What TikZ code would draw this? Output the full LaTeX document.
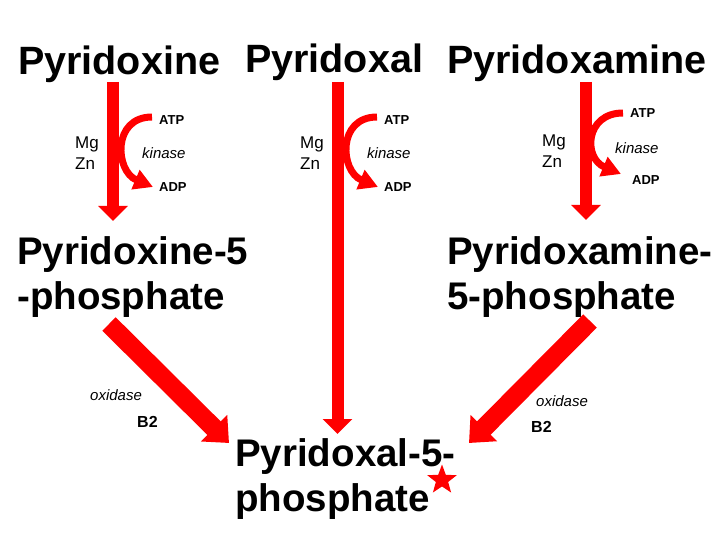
\documentclass[tikz,border=0pt]{standalone}
\usepackage{fontspec}
\setmainfont{Liberation Sans}
\usetikzlibrary{arrows.meta,shapes.geometric}

\begin{document}
\begin{tikzpicture}[x=1pt,y=-1pt,
		compound/.style={anchor=base west, inner sep=0pt, font=\fontsize{39.5}{45}\selectfont\bfseries},
		product/.style={anchor=north west, inner sep=0pt, align=left, font=\fontsize{38.5}{45}\selectfont\bfseries},
		vstep/.style={red, line width=12pt, -{Triangle[length=15pt,width=29pt]}},
		dstep/.style={red, line width=19pt, -{Triangle[length=21pt,width=36pt]}},
		cofactor/.style={red, line width=7pt, -{Triangle[length=19pt,width=20pt]}},
		small/.style={anchor=west, inner sep=0pt, font=\fontsize{13}{15}\selectfont\bfseries},
		enzyme/.style={anchor=west, inner sep=0pt, font=\fontsize{15}{17}\selectfont\itshape},
		metal/.style={anchor=north west, inner sep=0pt, align=left, font=\fontsize{17}{21}\selectfont}]
	\useasboundingbox (0,0) rectangle (720,540);

	% vitamers
	\node[compound] (pn) at (18,75) {Pyridoxine};
	\node[compound] (pl) at (245,73) {Pyridoxal};
	\node[compound] (pm) at (447,74) {Pyridoxamine};

	% phosphates
	\node[product] (pnp) at (17,236) {Pyridoxine-5\\-phosphate};
	\node[product] (pmp) at (447,236) {Pyridoxamine-\\5-phosphate};
	\node[product] (plp) at (235,438) {Pyridoxal-5-\\phosphate};
	\node[star, star points=5, star point ratio=2.4, fill=red, inner sep=0pt, minimum size=31pt] (mark) at (442,480) {};

	% kinase steps
	\coordinate (pn-top) at (113,82);   \coordinate (pn-end) at (113,221);
	\coordinate (pl-top) at (337.5,82); \coordinate (pl-end) at (337.5,434);
	\coordinate (pm-top) at (586,82);   \coordinate (pm-end) at (586,220);
	\draw[vstep] (pn-top) -- (pn-end);
	\draw[vstep] (pl-top) -- (pl-end);
	\draw[vstep] (pm-top) -- (pm-end);

	\node[small] (atp1) at (159,120) {ATP};
	\node[enzyme] (kin1) at (142,153) {kinase};
	\node[small] (adp1) at (159,187) {ADP};
	\node[metal] (mz1) at (75,137) {Mg\\Zn};
	\draw[cofactor] ([xshift=-7pt,yshift=3pt]atp1.west) .. controls +(-40,0) and +(-38,-16) .. ([xshift=-6pt]adp1.west);

	\node[small] (atp2) at (384,120) {ATP};
	\node[enzyme] (kin2) at (367,153) {kinase};
	\node[small] (adp2) at (384,187) {ADP};
	\node[metal] (mz2) at (300,137) {Mg\\Zn};
	\draw[cofactor] ([xshift=-7pt,yshift=3pt]atp2.west) .. controls +(-40,0) and +(-38,-16) .. ([xshift=-6pt]adp2.west);

	\node[small] (atp3) at (630,113) {ATP};
	\node[enzyme] (kin3) at (615,148) {kinase};
	\node[small] (adp3) at (632,180) {ADP};
	\node[metal] (mz3) at (542,135) {Mg\\Zn};
	\draw[cofactor] ([xshift=-7pt]atp3.west) .. controls +(-38,0) and +(-38,-16) .. ([xshift=-11pt,yshift=6pt]adp3.west);

	% oxidase steps
	\coordinate (pnp-out) at (109,324); \coordinate (plp-in1) at (229,443);
	\coordinate (pmp-out) at (590,321); \coordinate (plp-in2) at (469,443);
	\draw[dstep] (pnp-out) -- (plp-in1);
	\draw[dstep] (pmp-out) -- (plp-in2);
	\node[enzyme] (ox1) at (90,395) {oxidase};
	\node[small, font=\fontsize{16}{18}\selectfont\bfseries] (b21) at (137,422) {B2};
	\node[enzyme] (ox2) at (536,401) {oxidase};
	\node[small, font=\fontsize{16}{18}\selectfont\bfseries] (b22) at (531,427) {B2};
\end{tikzpicture}
\end{document}
